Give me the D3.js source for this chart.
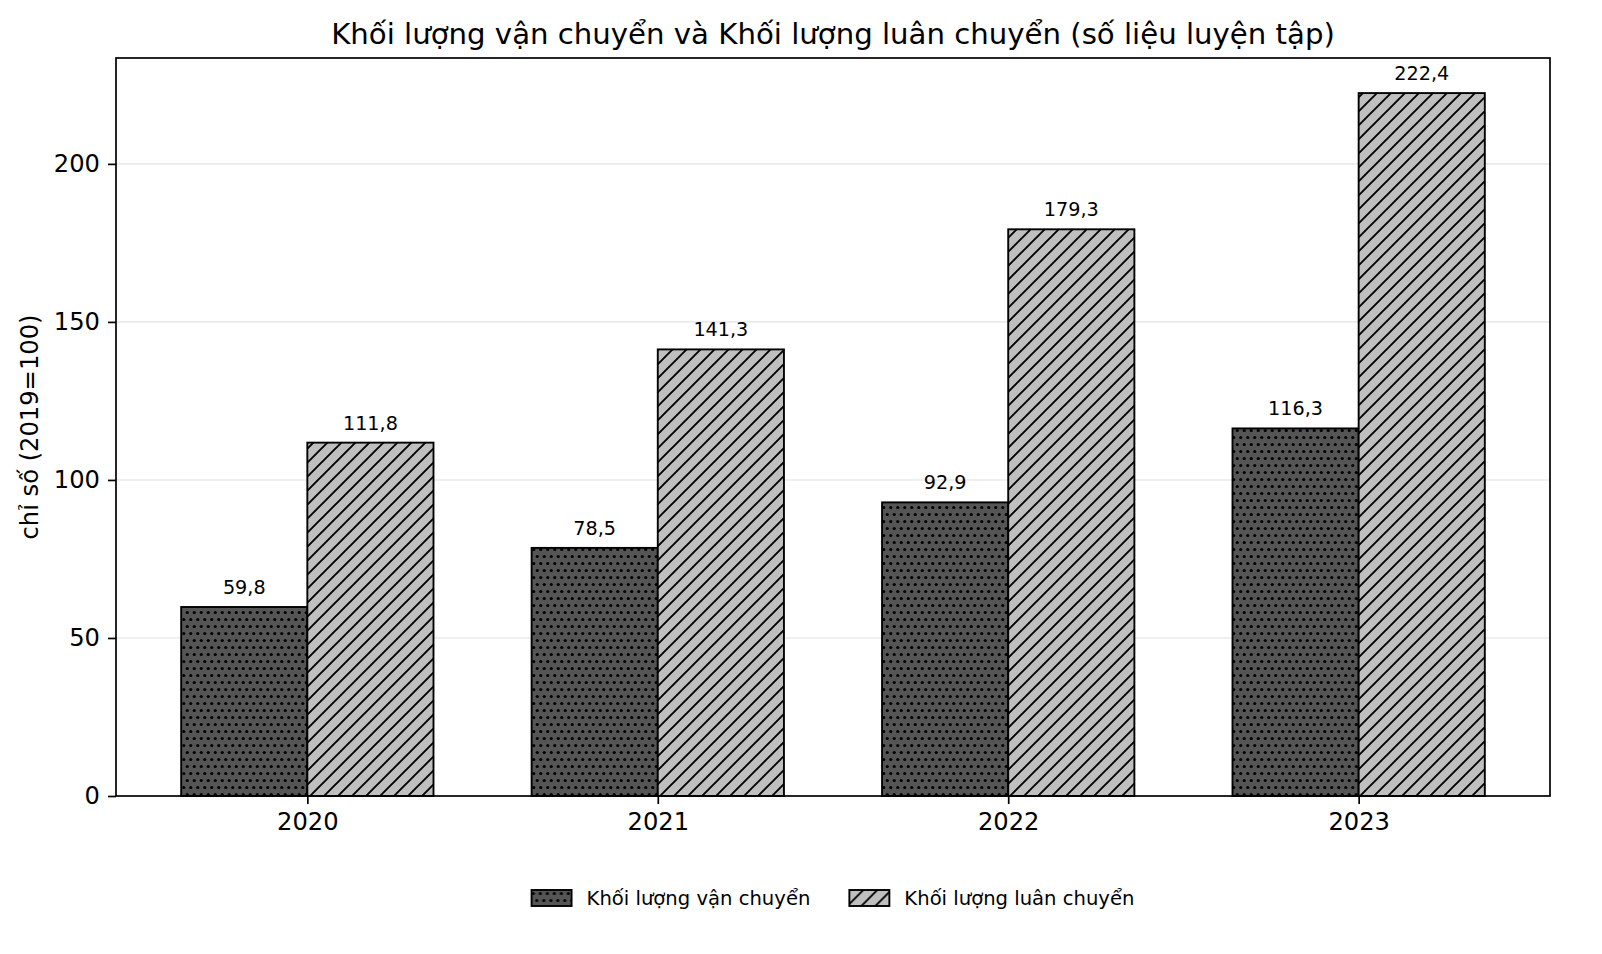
<!DOCTYPE html>
<html lang="vi">

<head>
    <meta charset="utf-8">
    <title>Khối lượng vận chuyển và Khối lượng luân chuyển</title>
    <style>
        * {
            margin: 0;
            padding: 0;
            box-sizing: border-box;
        }

        body {
            background: #fff;
            font-family: 'DejaVu Sans', sans-serif;
        }

        svg text {
            fill: #000;
        }
    </style>
</head>

<body>
    <div id="chart"></div>
    <script src="https://d3js.org/d3.v7.min.js"></script>

    <script>
        // du lieu doc tu hinh
        var years = ["2020", "2021", "2022", "2023"];
        var vanChuyen = [59.8, 78.5, 92.9, 116.3];
        var luanChuyen = [111.8, 141.3, 179.3, 222.4];
        var seriesNames = ["Khối lượng vận chuyển", "Khối lượng luân chuyển"];
        var yTicks = [0, 50, 100, 150, 200];

        var width = 1602,
            height = 954;
        var plotL = 116, plotR = 1550, plotT = 58, plotB = 796;
        var barW = 0.36;

        var svg = d3.select("#chart")
            .append("svg")
            .attr("width", width)
            .attr("height", height);

        var defs = svg.append("defs");

        // cham (hatch '...')
        var dots = defs.append("pattern")
            .attr("id", "dots")
            .attr("patternUnits", "userSpaceOnUse")
            .attr("width", 7)
            .attr("height", 14);
        dots.append("rect").attr("width", 7).attr("height", 14).style("fill", "#555555");
        [[1.75, 3.5], [5.25, 10.5]].forEach(function (p) {
            dots.append("circle").attr("cx", p[0]).attr("cy", p[1]).attr("r", 1.6).style("fill", "#000");
        });

        // gach cheo (hatch '//')
        var diag = defs.append("pattern")
            .attr("id", "diag")
            .attr("patternUnits", "userSpaceOnUse")
            .attr("width", 14)
            .attr("height", 14);
        diag.append("rect").attr("width", 14).attr("height", 14).style("fill", "#bfbfbf");
        diag.append("path")
            .attr("d", "M-1,15 L15,-1 M-4,4 L4,-4 M10,18 L18,10")
            .style("stroke", "#000")
            .style("stroke-width", 1.9);

        var fills = ["url(#dots)", "url(#diag)"];

        var x = d3.scaleLinear().domain([-0.546, 3.546]).range([plotL, plotR]);
        var y = d3.scaleLinear().domain([0, 233.5]).range([plotB, plotT]);

        // luoi ngang
        svg.append("g")
            .selectAll("line")
            .data(yTicks.slice(1))
            .enter()
            .append("line")
            .attr("x1", plotL)
            .attr("x2", plotR)
            .attr("y1", function (d) { return y(d); })
            .attr("y2", function (d) { return y(d); })
            .style("stroke", "#ebebeb")
            .style("stroke-width", 1.6);

        var rows = years.map(function (yr, i) {
            return [
                { i: i, s: 0, v: vanChuyen[i] },
                { i: i, s: 1, v: luanChuyen[i] }
            ];
        });
        var bars = d3.merge(rows);

        svg.append("g")
            .selectAll("rect")
            .data(bars)
            .enter()
            .append("rect")
            .attr("x", function (d) { return x(d.i + (d.s - 1) * barW); })
            .attr("width", function (d) { return x(barW) - x(0); })
            .attr("y", function (d) { return y(d.v); })
            .attr("height", function (d) { return y(0) - y(d.v); })
            .style("fill", function (d) { return fills[d.s]; })
            .style("stroke", "#000")
            .style("stroke-width", 1.9);

        var fmt = d3.format(".1f");
        svg.append("g")
            .selectAll("text")
            .data(bars)
            .enter()
            .append("text")
            .attr("x", function (d) { return x(d.i + (d.s - 0.5) * barW); })
            .attr("y", function (d) { return y(d.v) - 13; })
            .attr("text-anchor", "middle")
            .style("font-size", "19.2px")
            .text(function (d) { return fmt(d.v).replace(".", ","); });

        // truc
        var yAxis = d3.axisLeft(y)
            .tickValues(yTicks)
            .tickSize(8)
            .tickPadding(8);
        var gy = svg.append("g")
            .attr("transform", "translate(" + plotL + ",0)")
            .call(yAxis);
        gy.select(".domain").remove();
        gy.selectAll("line").style("stroke", "#000").style("stroke-width", 1.7);
        gy.selectAll("text")
            .style("font-family", "'DejaVu Sans', sans-serif")
            .style("font-size", "24.2px");

        var xAxis = d3.axisBottom(x)
            .tickValues(d3.range(years.length))
            .tickFormat(function (d) { return years[d]; })
            .tickSize(8)
            .tickPadding(9);
        var gx = svg.append("g")
            .attr("transform", "translate(0," + plotB + ")")
            .call(xAxis);
        gx.select(".domain").remove();
        gx.selectAll("line").style("stroke", "#000").style("stroke-width", 1.7);
        gx.selectAll("text")
            .style("font-family", "'DejaVu Sans', sans-serif")
            .style("font-size", "24.2px");

        svg.append("rect")
            .attr("x", plotL)
            .attr("y", plotT)
            .attr("width", plotR - plotL)
            .attr("height", plotB - plotT)
            .style("fill", "none")
            .style("stroke", "#000")
            .style("stroke-width", 1.7);

        // tieu de
        svg.append("text")
            .attr("x", (plotL + plotR) / 2)
            .attr("y", 44)
            .attr("text-anchor", "middle")
            .style("font-size", "29.2px")
            .text("Khối lượng vận chuyển và Khối lượng luân chuyển (số liệu luyện tập)");

        svg.append("text")
            .attr("transform", "translate(38," + (plotT + plotB) / 2 + ") rotate(-90)")
            .attr("text-anchor", "middle")
            .style("font-size", "24.2px")
            .text("chỉ số (2019=100)");

        // chu thich
        var legend = svg.append("g");
        var items = legend.selectAll("g")
            .data(seriesNames)
            .enter()
            .append("g");
        items.append("rect")
            .attr("width", 40)
            .attr("height", 16)
            .style("fill", function (d, i) { return fills[i]; })
            .style("stroke", "#000")
            .style("stroke-width", 1.9);
        items.append("text")
            .attr("x", 55)
            .attr("y", 15)
            .style("font-size", "19.6px")
            .text(function (d) { return d; });

        var pos = 0, xs = [];
        items.each(function (d, i) {
            xs.push(pos);
            var w = this.querySelector("text").getComputedTextLength();
            pos += 55 + w + 39;
        });
        var total = pos - 39;
        var start = (plotL + plotR) / 2 - total / 2;
        items.attr("transform", function (d, i) {
            return "translate(" + (start + xs[i]) + ",890)";
        });
    </script>
</body>

</html>
